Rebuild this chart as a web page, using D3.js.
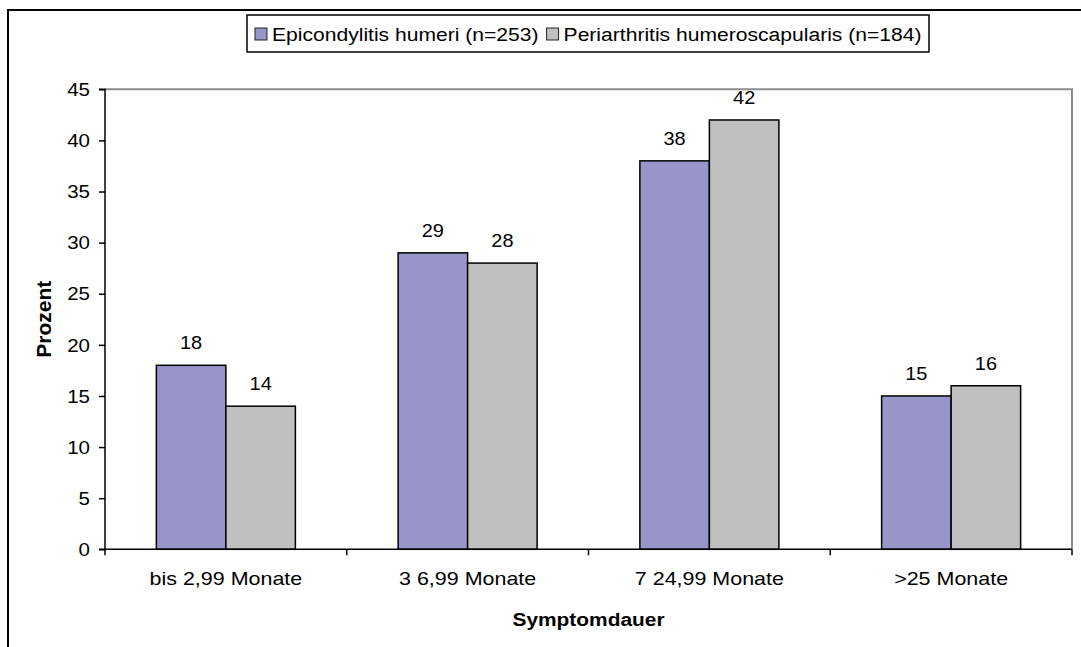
<!DOCTYPE html>
<html>
<head>
<meta charset="utf-8">
<script src="https://cdn.jsdelivr.net/npm/d3@7/dist/d3.min.js"></script>
<style>
  html, body { margin: 0; padding: 0; background: #fff; }
  svg { display: block; font-family: "Liberation Sans", Arial, sans-serif; }
</style>
</head>
<body>
<svg id="chart" width="1081" height="647"></svg>
<script>
const categories = ["bis 2,99 Monate", "3 6,99 Monate", "7 24,99 Monate", ">25 Monate"];
const seriesNames = ["Epicondylitis humeri (n=253)", "Periarthritis humeroscapularis (n=184)"];
const epicondylitis = [18, 29, 38, 15];
const periarthritis = [14, 28, 42, 16];
const yTicks = [0, 5, 10, 15, 20, 25, 30, 35, 40, 45];
const xTitle = "Symptomdauer";
const yTitle = "Prozent";

const seriesValues = [epicondylitis, periarthritis];
const colors = ["#9896C9", "#C0C0C0"];

const svg = d3.select("#chart");
const plot = { left: 105, right: 1072, top: 89.3, bottom: 549.3 };

// outer frame
svg.append("rect").attr("x", 8).attr("y", 10).attr("width", 1100).attr("height", 700)
  .attr("fill", "none").attr("stroke", "#000").attr("stroke-width", 2);

const y = d3.scaleLinear().domain([0, 45]).range([plot.bottom, plot.top]);
const x0 = d3.scaleBand().domain(categories).range([plot.left, plot.right])
  .paddingInner(0.425).paddingOuter(0.2125);
const x1 = d3.scaleBand().domain(d3.range(seriesValues.length)).range([0, x0.bandwidth()]);

// plot border (top & right) gray
svg.append("path")
  .attr("d", `M${plot.left},${plot.top}H${plot.right}V${plot.bottom}`)
  .attr("fill", "none").attr("stroke", "#8c8c8c").attr("stroke-width", 2);

function stretchedText(parent, x, yPos, txt, opts) {
  const g = parent.append("g").attr("transform", `translate(${x},${yPos}) scale(${opts.sx},1)`);
  return g.append("text").text(txt)
    .attr("font-size", opts.size)
    .attr("font-weight", opts.weight || "normal")
    .attr("text-anchor", opts.anchor || "middle")
    .attr("dominant-baseline", opts.baseline || "auto")
    .attr("fill", "#000");
}

// bars
const groups = svg.append("g").selectAll("g").data(categories).join("g")
  .attr("transform", d => `translate(${x0(d)},0)`);
groups.selectAll("rect").data((d, i) => seriesValues.map((s, k) => ({ k, v: s[i] })))
  .join("rect")
  .attr("x", d => x1(d.k))
  .attr("y", d => y(d.v))
  .attr("width", x1.bandwidth())
  .attr("height", d => y(0) - y(d.v))
  .attr("fill", d => colors[d.k])
  .attr("stroke", "#000").attr("stroke-width", 1.5);

// value labels
categories.forEach((c, i) => {
  seriesValues.forEach((s, k) => {
    stretchedText(svg, x0(c) + x1(k) + x1.bandwidth() / 2, y(s[i]) - 16, String(s[i]), { size: 19, sx: 1.05 });
  });
});

// y axis
const yAxis = d3.axisLeft(y).tickValues(yTicks).tickSize(6).tickFormat(() => "");
const yg = svg.append("g").attr("transform", `translate(${plot.left},0)`).call(yAxis);
yg.select(".domain").attr("stroke", "#000").attr("stroke-width", 1.5).attr("d", `M-6,${plot.top}H0V${plot.bottom}H-6`);
yg.selectAll(".tick line").attr("stroke", "#000").attr("stroke-width", 1.5);
yTicks.forEach(t => {
  stretchedText(svg, 90, y(t), String(t), { size: 19, anchor: "end", baseline: "central", sx: 1.08 });
});

// x axis
svg.append("line").attr("x1", plot.left).attr("x2", plot.right)
  .attr("y1", plot.bottom).attr("y2", plot.bottom)
  .attr("stroke", "#000").attr("stroke-width", 1.5);
const step = x0.step();
const bounds = categories.map(c => x0(c) - step * x0.paddingInner() / 2).concat([plot.right]);
svg.append("g").selectAll("line").data(bounds).join("line")
  .attr("x1", d => d).attr("x2", d => d)
  .attr("y1", plot.bottom).attr("y2", plot.bottom + 6)
  .attr("stroke", "#000").attr("stroke-width", 1.5);
categories.forEach(c => {
  stretchedText(svg, x0(c) + x0.bandwidth() / 2, 585, c, { size: 19, sx: 1.13 });
});

// axis titles
stretchedText(svg, (plot.left + plot.right) / 2, 626, xTitle, { size: 19, weight: "bold", sx: 1.1 });
svg.append("text").text(yTitle)
  .attr("transform", `translate(51,${(plot.top + plot.bottom) / 2}) rotate(-90)`)
  .attr("text-anchor", "middle").attr("font-size", 21).attr("font-weight", "bold").attr("fill", "#000");

// legend
const leg = svg.append("g");
leg.append("rect").attr("x", 247).attr("y", 15).attr("width", 682).attr("height", 37)
  .attr("fill", "#fff").attr("stroke", "#000").attr("stroke-width", 1.5);
let lx = 255;
seriesNames.forEach((name, k) => {
  leg.append("rect").attr("x", lx).attr("y", 28).attr("width", 12).attr("height", 12)
    .attr("fill", colors[k]).attr("stroke", "#222").attr("stroke-width", 1);
  const t = stretchedText(leg, lx + 17, 34, name, { size: 19, anchor: "start", baseline: "central", sx: 1.11 });
  const w = t.node().getComputedTextLength() * 1.11;
  lx = lx + 17 + w + 8;
});
</script>
</body>
</html>
